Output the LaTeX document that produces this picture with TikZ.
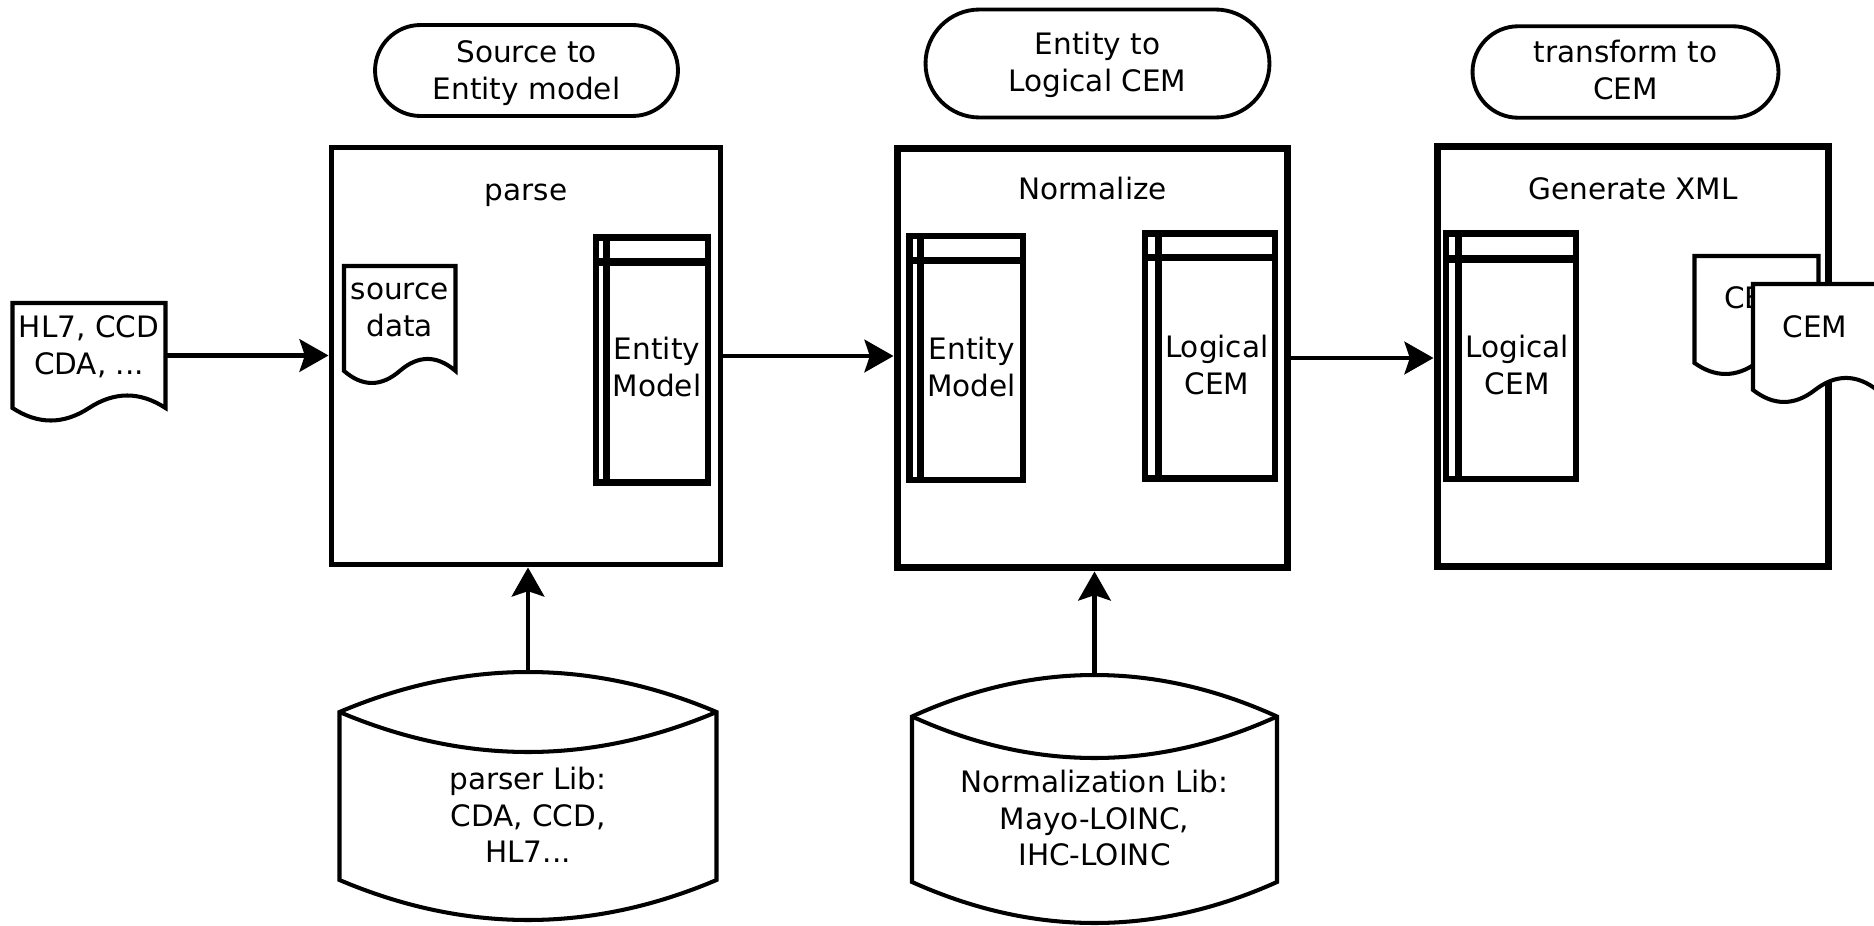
\documentclass[tikz,border=0pt]{standalone}
\usepackage{fontspec}
\setmainfont{DejaVu Sans}
\usetikzlibrary{arrows.meta,shapes.misc}
\newcommand{\lblfont}{\fontsize{16.8pt}{20.5pt}\selectfont}
\newcommand{\docpath}[5]{%
  \draw[docln] (#1,#3) -- (#2,#3) -- (#2,{#4-#5/2})
    .. controls ({#2-(#2-#1)/6},{#4-1.1*#5}) and ({#1+2*(#2-#1)/3},{#4-1.1*#5}) .. ({(#1+#2)/2},{#4-#5/2})
    .. controls ({#1+(#2-#1)/3},{#4+0.1*#5}) and ({#1+(#2-#1)/6},{#4+0.1*#5}) .. (#1,{#4-#5/2}) -- cycle;}
\newcommand{\cylpath}[6]{%
  \draw[cylln] (#1,#3) .. controls ({#1+(#2-#1)/3},{#3-4*#4/3}) and ({#1+2*(#2-#1)/3},{#3-4*#4/3}) .. (#2,#3)
    -- (#2,#5) .. controls ({#1+2*(#2-#1)/3},{#5+4*#6/3}) and ({#1+(#2-#1)/3},{#5+4*#6/3}) .. (#1,#5) -- cycle;
  \draw[line width=2.3pt] (#1,#3) .. controls ({#1+(#2-#1)/3},{#3+4*#4/3}) and ({#1+2*(#2-#1)/3},{#3+4*#4/3}) .. (#2,#3);}
\begin{document}
\begin{tikzpicture}[x=0.02cm, y=-0.02cm,
  every node/.style={font=\lblfont, inner sep=0pt},
  lbl/.style={align=center},
  term/.style={rounded rectangle, draw, line width=2.2pt, fill=white},
  stagebox/.style={rectangle, draw},
  store/.style={rectangle, draw, line width=3.7pt},
  storeline/.style={line width=4.2pt},
  hold/.style={rectangle},
  arr/.style={line width=2.6pt, -{Stealth[length=16.5pt, width=18.5pt, inset=3pt]}},
  docln/.style={draw, fill=white, line width=2.3pt},
  cylln/.style={draw, fill=white, line width=2.3pt}]
\path[use as bounding box] (0,0) rectangle (1874,926);
\clip (0,0) rectangle (1874,926);

% stage headers
\node[term, minimum width=6.06cm, minimum height=1.82cm] (h1) at (526.5,70.5) {};
\node[lbl] (h1t) at (526.5,73.8) {\strut Source to\\Entity model\strut};
\node[term, minimum width=6.88cm, minimum height=2.16cm] (h2) at (1097.5,63.5) {};
\node[lbl] (h2t) at (1097.5,65.8) {\strut Entity to\\Logical CEM\strut};
\node[term, minimum width=6.12cm, minimum height=1.83cm] (h3) at (1625.5,72) {};
\node[lbl] (h3t) at (1625.5,73.8) {\strut transform to\\CEM\strut};

% stage boxes
\node[stagebox, line width=2.85pt, minimum width=7.8cm, minimum height=8.36cm] (b1) at (526,356) {};
\node[lbl] (b1t) at (526,192.8) {\strut parse};
\node[stagebox, line width=4pt, minimum width=7.82cm, minimum height=8.4cm] (b2) at (1092.5,358) {};
\node[lbl] (b2t) at (1092.5,191.8) {\strut Normalize};
\node[stagebox, line width=4pt, minimum width=7.84cm, minimum height=8.42cm] (b3) at (1633,356.5) {};
\node[lbl] (b3t) at (1633,191.8) {\strut Generate XML};

% internal storage boxes
\node[store, minimum width=2.24cm, minimum height=4.9cm] (s1) at (652,360) {};
\draw[storeline] (606.5,237.5) -- (606.5,482.5) (596,262) -- (708,262);
\node[lbl] (s1t) at (657,370.8) {\strut Entity\\Model\strut};

\node[store, minimum width=2.27cm, minimum height=4.88cm] (s2) at (966.25,358) {};
\draw[storeline] (920.5,236) -- (920.5,480) (909.5,260.5) -- (1023,260.5);
\node[lbl] (s2t) at (971.75,370.8) {\strut Entity\\Model\strut};

\node[store, minimum width=2.6cm, minimum height=4.9cm] (s3) at (1210,356) {};
\draw[storeline] (1158.5,233.5) -- (1158.5,478.5) (1145,257.5) -- (1275,257.5);
\node[lbl] (s3t) at (1216.75,368.8) {\strut Logical\\CEM\strut};

\node[store, minimum width=2.6cm, minimum height=4.91cm] (s4) at (1511,356.25) {};
\draw[storeline] (1458.5,233.5) -- (1458.5,479) (1446,259) -- (1576,259);
\node[lbl] (s4t) at (1517.25,368.8) {\strut Logical\\CEM\strut};

% documents
\node[hold, minimum width=3.06cm, minimum height=2.1cm] (d1) at (89,355.5) {};
\docpath{12.5}{165.5}{303}{421.9}{27.8}
\node[lbl] (d1t) at (89,348.8) {\strut HL7, CCD\\CDA, ...\strut};

\docpath{344}{455.5}{266}{384.3}{26.7}
\node[lbl] (srct) at (399.75,310.8) {\strut source\\data\strut};

\docpath{1694.5}{1818.5}{256}{375.2}{24.4}
\node[lbl] (c1t) at (1756.5,300.8) {\strut CEM};
\docpath{1753}{1877}{284}{403.3}{26.7}
\node[lbl] (c2t) at (1815,329.8) {\strut CEM};

% libraries
\node[hold, minimum width=7.54cm, minimum height=4.96cm] (l1) at (528,796) {};
\cylpath{339.5}{716.5}{712}{40}{880}{40}
\node[lbl] (l1t) at (528,818.8) {\strut parser Lib:\\CDA, CCD,\\HL7...\strut};
\node[hold, minimum width=7.3cm, minimum height=4.96cm] (l2) at (1094.5,799) {};
\cylpath{912}{1277}{716.5}{41.5}{882}{41}
\node[lbl] (l2t) at (1094.5,821.8) {\strut Normalization Lib:\\Mayo-LOINC,\\IHC-LOINC\strut};

% connectors
\draw[arr] (d1.east) -- (d1.east -| b1.west);
\draw[arr] (b1.east) -- (b1.east -| b2.west);
\draw[arr] (b2.east) -- (b2.east -| b3.west);
\draw[arr] (l1.north) -- (l1.north |- b1.south);
\draw[arr] (l2.north) -- (l2.north |- b2.south);
\end{tikzpicture}
\end{document}
